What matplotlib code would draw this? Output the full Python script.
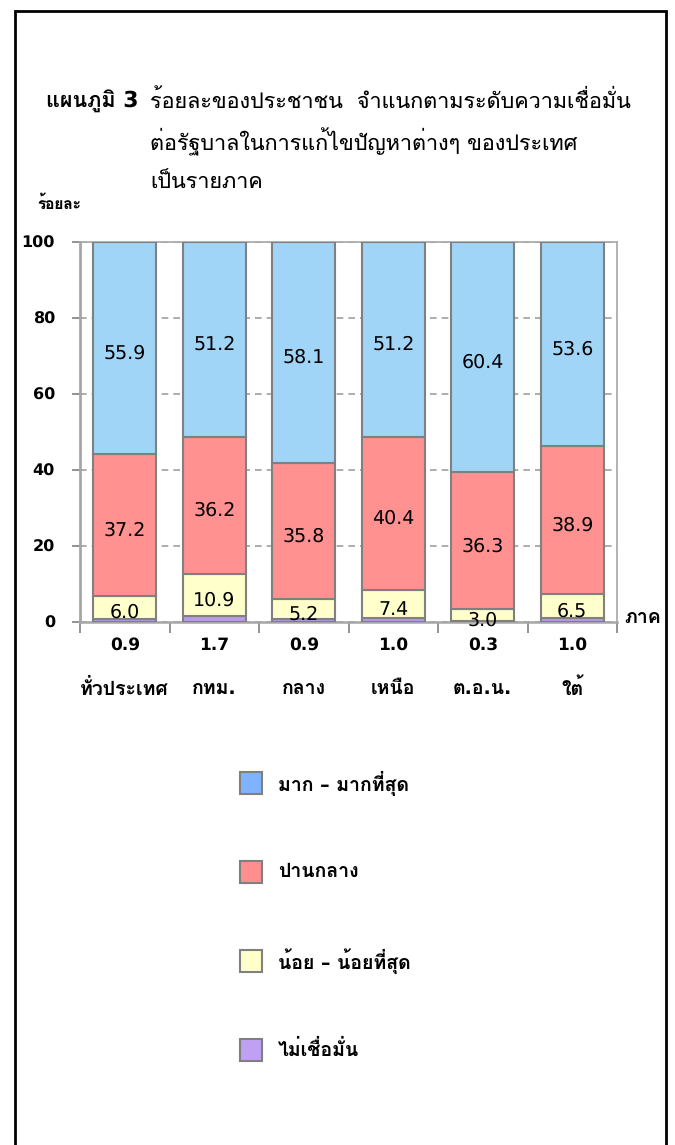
import matplotlib
matplotlib.use("Agg")
import matplotlib.pyplot as plt
from matplotlib.patches import Rectangle

plt.rcParams["text.hinting"] = "no_hinting"
plt.rcParams["text.hinting_factor"] = 1

# ข้อมูล (ร้อยละ) แยกตามภาค
regions = ["ทั่วประเทศ", "กทม.", "กลาง", "เหนือ", "ต.อ.น.", "ใต้"]
none_vals = [0.9, 1.7, 0.9, 1.0, 0.3, 1.0]
low_vals = [6.0, 10.9, 5.2, 7.4, 3.0, 6.5]
mid_vals = [37.2, 36.2, 35.8, 40.4, 36.3, 38.9]
high_vals = [55.9, 51.2, 58.1, 51.2, 60.4, 53.6]
yticks = [0, 20, 40, 60, 80, 100]

series_names = ["มาก – มากที่สุด", "ปานกลาง", "น้อย – น้อยที่สุด", "ไม่เชื่อมั่น"]
bar_colors = ["#A0D5F7", "#FF9191", "#FFFFCC", "#BB99EE"]
legend_colors = ["#7FB2FF", "#FF8F8F", "#FFFFCC", "#C0A0F5"]

TXT = ["DejaVu Sans", "Loma"]
EDGE = "#808080"

fig = plt.figure(figsize=(6.75, 11.45), dpi=100)
W, H = 675, 1145

def fx(px):
    return px / W

def fy(py):
    return 1 - py / H

# กรอบนอก
fig.add_artist(Rectangle((fx(15), -0.02), fx(666) - fx(15), fy(11) + 0.02,
                         transform=fig.transFigure, fill=False, lw=2, ec="black"))

# หัวเรื่อง
fig.text(fx(46), fy(101), "แผนภูมิ 3", family=TXT, fontweight="bold",
         fontsize=15.5, va="center", ha="left")
title_lines = ["ร้อยละของประชาชน  จำแนกตามระดับความเชื่อมั่น",
               "ต่อรัฐบาลในการแก้ไขปัญหาต่างๆ ของประเทศ",
               "เป็นรายภาค"]
for i, line in enumerate(title_lines):
    fig.text(fx(150), fy(101 + 41 * i), line, family=TXT, fontsize=15.5,
             va="center", ha="left")

fig.text(fx(37), fy(204), "ร้อยละ", family=TXT, fontweight="bold",
         fontsize=11, va="center", ha="left")

ax = fig.add_axes([fx(80), fy(622), fx(617) - fx(80), fy(242) - fy(622)])
x = list(range(len(regions)))

stack = [none_vals, low_vals, mid_vals, high_vals]
colors = bar_colors[::-1]
bottoms = [0.0] * len(regions)
for vals, col in zip(stack, colors):
    ax.bar(x, vals, width=0.7, bottom=bottoms, color=col, edgecolor=EDGE,
           linewidth=1.5, zorder=3)
    bottoms = [b + v for b, v in zip(bottoms, vals)]

# ค่าในแท่ง (ยกเว้น ไม่เชื่อมั่น)
bottoms = list(none_vals)
for vals in [low_vals, mid_vals, high_vals]:
    for i, v in enumerate(vals):
        ax.annotate(f"{v:.1f}", (i, bottoms[i] + v / 2), xytext=(0, -4),
                    textcoords="offset points", ha="center", va="center",
                    family=TXT, fontsize=14, zorder=4)
    bottoms = [b + v for b, v in zip(bottoms, vals)]

ax.set_xlim(-0.5, len(regions) - 0.5)
ax.set_ylim(0, 100)
ax.set_yticks(yticks)
ax.set_yticklabels([str(t) for t in yticks], family=TXT, fontweight="bold",
                   fontsize=11.5)
ax.tick_params(axis="y", length=6, color=EDGE, pad=12, width=1.2)

# ค่าไม่เชื่อมั่นใต้แกน
ax.set_xticks(x)
ax.set_xticklabels([f"{v:.1f}" for v in none_vals], family=TXT,
                   fontweight="bold", fontsize=12.5)
ax.tick_params(axis="x", which="major", length=0, pad=11)
ax.set_xticks([i - 0.5 for i in range(len(regions) + 1)], minor=True)
ax.tick_params(axis="x", which="minor", length=8, color=EDGE, width=1.2)

for i, name in enumerate(regions):
    ax.text(i, -17.5, name, ha="center", va="center", family=TXT,
            fontweight="bold", fontsize=14)

ax.text(1.014, 0.012, "ภาค", transform=ax.transAxes, ha="left",
        va="center", family=TXT, fontweight="bold", fontsize=14)

ax.yaxis.grid(True, linestyle=(0, (4, 3)), color="#A0A0A0", linewidth=1.2, zorder=0)
for side in ["top", "right", "left", "bottom"]:
    ax.spines[side].set_color("#A6A6A6")
    ax.spines[side].set_linewidth(1.2)
ax.spines["left"].set_linewidth(2)
ax.spines["bottom"].set_linewidth(1.8)

# คำอธิบายสัญลักษณ์
leg_y = [783, 872, 961, 1050]
for name, col, py in zip(series_names, legend_colors, leg_y):
    fig.add_artist(Rectangle((fx(240), fy(py + 11)), fx(22), 22 / H,
                             transform=fig.transFigure, fc=col, ec=EDGE, lw=1.5))
    fig.text(fx(278), fy(py), name, family=TXT, fontweight="bold",
             fontsize=14, va="center", ha="left")

fig.savefig("out.png", dpi=100)
